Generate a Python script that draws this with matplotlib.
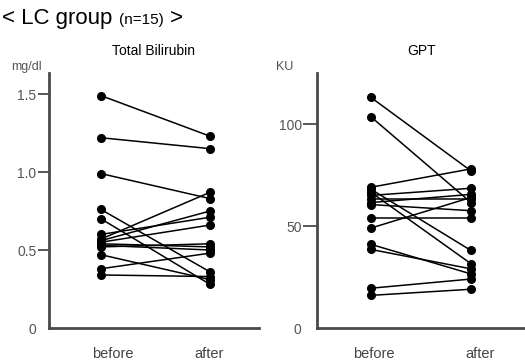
import matplotlib
matplotlib.use("Agg")
import matplotlib.pyplot as plt

plt.rcParams['font.family'] = ['Liberation Sans', 'DejaVu Sans']

# Total Bilirubin (mg/dl), 15 patients
bil_before = [1.49, 1.22, 0.99, 0.76, 0.70, 0.60, 0.57, 0.56, 0.55, 0.54, 0.53, 0.52, 0.47, 0.38, 0.34]
bil_after = [1.23, 1.15, 0.83, 0.36, 0.28, 0.71, 0.87, 0.75, 0.66, 0.52, 0.50, 0.54, 0.31, 0.48, 0.33]

# GPT (KU), 15 patients
gpt_before = [113, 103.5, 69, 68, 66.5, 65, 63, 61.5, 60.5, 54, 49, 41, 38.5, 19.5, 16]
gpt_after = [77, 61.5, 78, 38, 31.5, 68.5, 63, 65.5, 57.5, 54, 64, 26.5, 29, 24, 19]

categories = ['before', 'after']
bil_ticks = [0, 0.5, 1.0, 1.5]
bil_ticklabels = ['0', '0.5', '1.0', '1.5']
gpt_ticks = [0, 50, 100]
gpt_ticklabels = ['0', '50', '100']

fig = plt.figure(figsize=(5.25, 3.6), dpi=100)

spine_col = '#4a4a4a'
label_col = '#555555'


def draw_panel(rect, before, after, ylim, xlim, ticks, ticklabels, cat_pos, title, unit, unit_xy, ticklen):
    ax = fig.add_axes(rect)
    for b, a in zip(before, after):
        ax.plot([0, 1], [b, a], color='black', lw=1.1, marker='o', ms=5.5,
                mec='black', mfc='black', clip_on=False, zorder=3)
    ax.set_xlim(*xlim)
    ax.set_ylim(*ylim)
    for s in ['top', 'right']:
        ax.spines[s].set_visible(False)
    for s in ['left', 'bottom']:
        ax.spines[s].set_color(spine_col)
        ax.spines[s].set_linewidth(2.0)
    ax.set_yticks(ticks)
    ax.set_yticklabels(ticklabels)
    ax.tick_params(axis='y', length=ticklen, width=1.3, color=spine_col,
                   labelsize=10, labelcolor=label_col, pad=1)
    ax.yaxis.get_major_ticks()[0].tick1line.set_visible(False)
    ax.set_xticks(cat_pos)
    ax.set_xticklabels(categories)
    ax.tick_params(axis='x', length=0, labelsize=10.5, labelcolor='#444444', pad=14)
    ax.set_title(title, fontsize=10, pad=13)
    fig.text(unit_xy[0], unit_xy[1], unit, fontsize=9, color=label_col,
             ha='right', va='center')
    return ax


draw_panel([49 / 525, 32 / 360, 210 / 525, 255 / 360], bil_before, bil_after,
           (0, 1.635), (-0.477, 1.45), bil_ticks, bil_ticklabels, [0.11, 0.99],
           'Total Bilirubin', 'mg/dl', (42 / 525, 1 - 67 / 360), 8)
draw_panel([317 / 525, 32 / 360, 210 / 525, 255 / 360], gpt_before, gpt_after,
           (0, 125), (-0.54, 1.56), gpt_ticks, gpt_ticklabels, [0.03, 1.09],
           'GPT', 'KU', (293 / 525, 1 - 67 / 360), 10)

# heading: big text, small "(n=15)", big ">" placed one after another
fig.text(2 / 525, 1 - 24 / 360, '< LC group', fontsize=16, va='baseline', ha='left')
fig.text(119 / 525, 1 - 24 / 360, '(n=15)', fontsize=11, va='baseline', ha='left')
fig.text(170 / 525, 1 - 24 / 360, '>', fontsize=16, va='baseline', ha='left')

fig.savefig('out.png', dpi=100)
